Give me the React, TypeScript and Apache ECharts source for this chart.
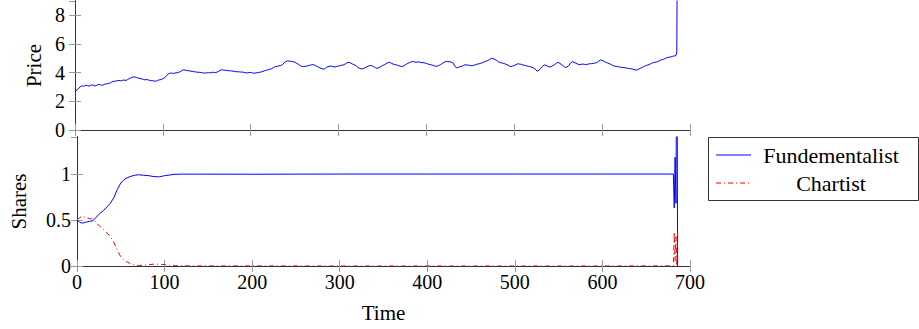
import React, { useEffect, useRef } from "react";
import * as echarts from "echarts";

// Price sampled every 2 time steps from t = 0 to t = 684
const PRICE_STEP = 2;
const priceValue = [
  2.65, 2.8, 2.88, 3.02, 3.08, 3.05, 3.12, 3.1, 3.06, 3.12, 3.15, 3.08, 3.1, 3.16, 3.18, 3.12, 3.14, 3.2, 3.22, 3.24,
  3.28, 3.36, 3.4, 3.4, 3.44, 3.46, 3.43, 3.47, 3.48, 3.46, 3.52, 3.6, 3.64, 3.7, 3.7, 3.66, 3.62, 3.6, 3.56, 3.52,
  3.5, 3.52, 3.48, 3.45, 3.44, 3.42, 3.4, 3.46, 3.5, 3.52, 3.58, 3.64, 3.78, 3.9, 3.96, 3.98, 3.94, 3.98, 3.99, 4.02,
  4.08, 4.16, 4.2, 4.16, 4.14, 4.13, 4.1, 4.1, 4.06, 4.05, 4.02, 4.03, 4.0, 3.98, 3.97, 3.99, 4.0, 3.99, 4.03, 4.02,
  4.0, 4.05, 4.12, 4.18, 4.2, 4.17, 4.16, 4.15, 4.12, 4.13, 4.1, 4.09, 4.06, 4.07, 4.04, 4.05, 4.02, 4.0, 3.98, 4.01,
  4.02, 3.98, 3.96, 3.99, 4.0, 4.03, 4.05, 4.1, 4.14, 4.18, 4.2, 4.24, 4.28, 4.36, 4.42, 4.44, 4.48, 4.5, 4.56, 4.68,
  4.78, 4.82, 4.8, 4.8, 4.76, 4.74, 4.66, 4.6, 4.5, 4.44, 4.42, 4.44, 4.46, 4.5, 4.52, 4.56, 4.55, 4.48, 4.42, 4.36,
  4.3, 4.26, 4.26, 4.36, 4.42, 4.46, 4.45, 4.41, 4.4, 4.44, 4.46, 4.5, 4.52, 4.56, 4.62, 4.7, 4.72, 4.66, 4.6, 4.55,
  4.48, 4.36, 4.3, 4.26, 4.28, 4.34, 4.4, 4.46, 4.5, 4.48, 4.42, 4.34, 4.3, 4.36, 4.42, 4.5, 4.55, 4.62, 4.7, 4.72,
  4.66, 4.6, 4.56, 4.54, 4.5, 4.46, 4.42, 4.48, 4.55, 4.62, 4.68, 4.74, 4.78, 4.76, 4.72, 4.75, 4.74, 4.7, 4.7, 4.68,
  4.64, 4.6, 4.56, 4.54, 4.5, 4.46, 4.44, 4.5, 4.56, 4.64, 4.72, 4.78, 4.78, 4.76, 4.74, 4.7, 4.5, 4.34, 4.36, 4.42,
  4.44, 4.5, 4.55, 4.54, 4.52, 4.5, 4.48, 4.52, 4.56, 4.6, 4.62, 4.66, 4.7, 4.76, 4.8, 4.86, 4.92, 5.0, 4.98, 4.92,
  4.85, 4.76, 4.7, 4.68, 4.64, 4.6, 4.55, 4.48, 4.42, 4.46, 4.5, 4.56, 4.62, 4.6, 4.58, 4.54, 4.5, 4.48, 4.44, 4.42,
  4.38, 4.32, 4.24, 4.1, 4.16, 4.3, 4.44, 4.55, 4.5, 4.46, 4.4, 4.42, 4.5, 4.56, 4.66, 4.72, 4.64, 4.56, 4.46, 4.36,
  4.4, 4.5, 4.66, 4.78, 4.72, 4.66, 4.6, 4.56, 4.58, 4.6, 4.58, 4.56, 4.6, 4.62, 4.63, 4.64, 4.68, 4.7, 4.8, 4.88,
  4.86, 4.8, 4.72, 4.68, 4.62, 4.58, 4.5, 4.46, 4.44, 4.42, 4.4, 4.36, 4.36, 4.34, 4.32, 4.3, 4.28, 4.26, 4.22, 4.18,
  4.2, 4.26, 4.32, 4.38, 4.44, 4.5, 4.54, 4.58, 4.64, 4.7, 4.72, 4.74, 4.8, 4.86, 4.9, 4.94, 5.0, 5.05, 5.08, 5.1,
  5.14, 5.16, 5.2,
];
// final blow-up of the price
const spikeTime = [685, 686];
const spikeValue = [5.45, 20];

const shareTime = [
  0, 3, 6, 10, 14, 18, 22, 26, 30, 34, 38, 42, 46, 50, 54, 58, 62, 66, 70, 76, 82, 88, 94, 100, 106, 112,
  120, 140, 200, 300, 400, 500, 600, 681, 682, 683, 684, 685, 686,
];
const fundamentalistShare = [
  0.5, 0.475, 0.465, 0.475, 0.485, 0.49, 0.53, 0.57, 0.6, 0.64, 0.68, 0.74, 0.83, 0.9, 0.94, 0.96, 0.975, 0.985, 0.99, 0.985, 0.98, 0.97, 0.968, 0.98, 0.988, 0.995,
  0.997, 0.997, 0.996, 0.998, 0.998, 0.998, 0.998, 0.998, 0.63, 1.18, 0.68, 3.0, -0.5,
];
const chartistShare = [
  0.5, 0.525, 0.54, 0.525, 0.515, 0.51, 0.47, 0.43, 0.4, 0.36, 0.32, 0.26, 0.17, 0.1, 0.06, 0.04, 0.02, 0.01, 0.005, 0.01, 0.015, 0.02, 0.02, 0.015, 0.008, 0.003,
  0.002, 0.001, 0.001, 0, 0, 0, 0, 0.002, 0.37, 0.05, 0.32, 0.0, 0.4,
];

const legendNames = ["Fundementalist", "Chartist"];
const legendColors = ["#0000ff", "#ff0000"];
const CHARTIST_DASH = [5, 3, 1, 3];
const FONT = "Liberation Serif";

export default function App() {
  const ref = useRef<HTMLDivElement>(null);
  useEffect(() => {
    const chart = echarts.init(ref.current!, null, { renderer: "svg" });
    const axisLine = { show: true, lineStyle: { color: "#333", width: 1 } };
    const axisTick = { show: true, inside: true, length: 6, lineStyle: { color: "#999", width: 1 } };
    const label = { fontFamily: FONT, fontSize: 20, color: "#000" };
    const nameStyle = { fontFamily: FONT, fontSize: 21, color: "#000" };
    const xBase = (grid: number, pos: string, showLabel: boolean, name?: string) => ({
      type: "value",
      gridIndex: grid,
      position: pos,
      min: 0,
      max: 700,
      interval: 100,
      axisLine,
      axisTick,
      splitLine: { show: false },
      axisLabel: { show: showLabel, margin: 6, ...label },
      name: name,
      nameLocation: "middle",
      nameGap: 36,
      nameTextStyle: nameStyle,
    });
    const yBase = (
      grid: number,
      pos: string,
      showLabel: boolean,
      max: number,
      interval: number,
      margin: number,
      name?: string,
      gap?: number
    ) => ({
      type: "value",
      gridIndex: grid,
      position: pos,
      min: 0,
      max,
      interval,
      axisLine,
      axisTick,
      splitLine: { show: false },
      axisLabel: { show: showLabel, margin, showMaxLabel: false, ...label },
      name: name,
      nameLocation: "middle",
      nameGap: gap,
      nameTextStyle: nameStyle,
    });
    const priceData = priceValue.map((v, i) => [i * PRICE_STEP, v]);
    spikeTime.forEach((t, i) => priceData.push([t, spikeValue[i]]));

    const lx = 708;
    const ly = 137;
    chart.setOption({
      animation: false,
      grid: [
        { left: 75, top: 1, width: 615, height: 129 },
        { left: 75, top: 137, width: 615, height: 129 },
      ],
      xAxis: [
        xBase(0, "bottom", false),
        xBase(0, "top", false),
        xBase(1, "bottom", true, "Time"),
        xBase(1, "top", false),
      ],
      yAxis: [
        yBase(0, "left", true, 9, 2, 10, "Price", 29),
        yBase(0, "right", false, 9, 2, 10),
        yBase(1, "left", true, 1.4, 0.5, 6, "Shares", 48),
        yBase(1, "right", false, 1.4, 0.5, 6),
      ],
      graphic: [
        {
          type: "rect",
          shape: { x: lx + 0.5, y: ly + 0.5, width: 210, height: 63 },
          style: { fill: "#fff", stroke: "#333", lineWidth: 1 },
          z: 10,
        },
        ...legendNames.flatMap((n, i) => [
          {
            type: "line",
            shape: { x1: lx + 8, y1: ly + 18 + i * 28, x2: lx + 43, y2: ly + 18 + i * 28 },
            style: {
              stroke: legendColors[i],
              lineWidth: 1,
              lineDash: i === 1 ? CHARTIST_DASH : null,
            },
            z: 11,
          },
          {
            type: "text",
            x: lx + 123,
            y: ly + 18 + i * 28,
            style: {
              text: n,
              fontFamily: FONT,
              fontSize: 22,
              fill: "#000",
              textAlign: "center",
              textVerticalAlign: "middle",
            },
            z: 11,
          },
        ]),
      ],
      series: [
        {
          name: "Price",
          type: "line",
          xAxisIndex: 0,
          yAxisIndex: 0,
          symbol: "none",
          data: priceData,
          lineStyle: { color: "#0000ff", width: 1 },
          itemStyle: { color: "#0000ff" },
        },
        {
          name: legendNames[0],
          type: "line",
          xAxisIndex: 2,
          yAxisIndex: 2,
          symbol: "none",
          data: shareTime.map((t, i) => [t, fundamentalistShare[i]]),
          lineStyle: { color: legendColors[0], width: 1 },
          itemStyle: { color: legendColors[0] },
        },
        {
          name: legendNames[1],
          type: "line",
          xAxisIndex: 2,
          yAxisIndex: 2,
          symbol: "none",
          data: shareTime.map((t, i) => [t, chartistShare[i]]),
          lineStyle: { color: legendColors[1], width: 1, type: CHARTIST_DASH },
          itemStyle: { color: legendColors[1] },
        },
      ],
    });
    return () => chart.dispose();
  }, []);
  return <div ref={ref} style={{ position: "absolute", left: 0, top: 0, width: 919, height: 329 }} />;
}
